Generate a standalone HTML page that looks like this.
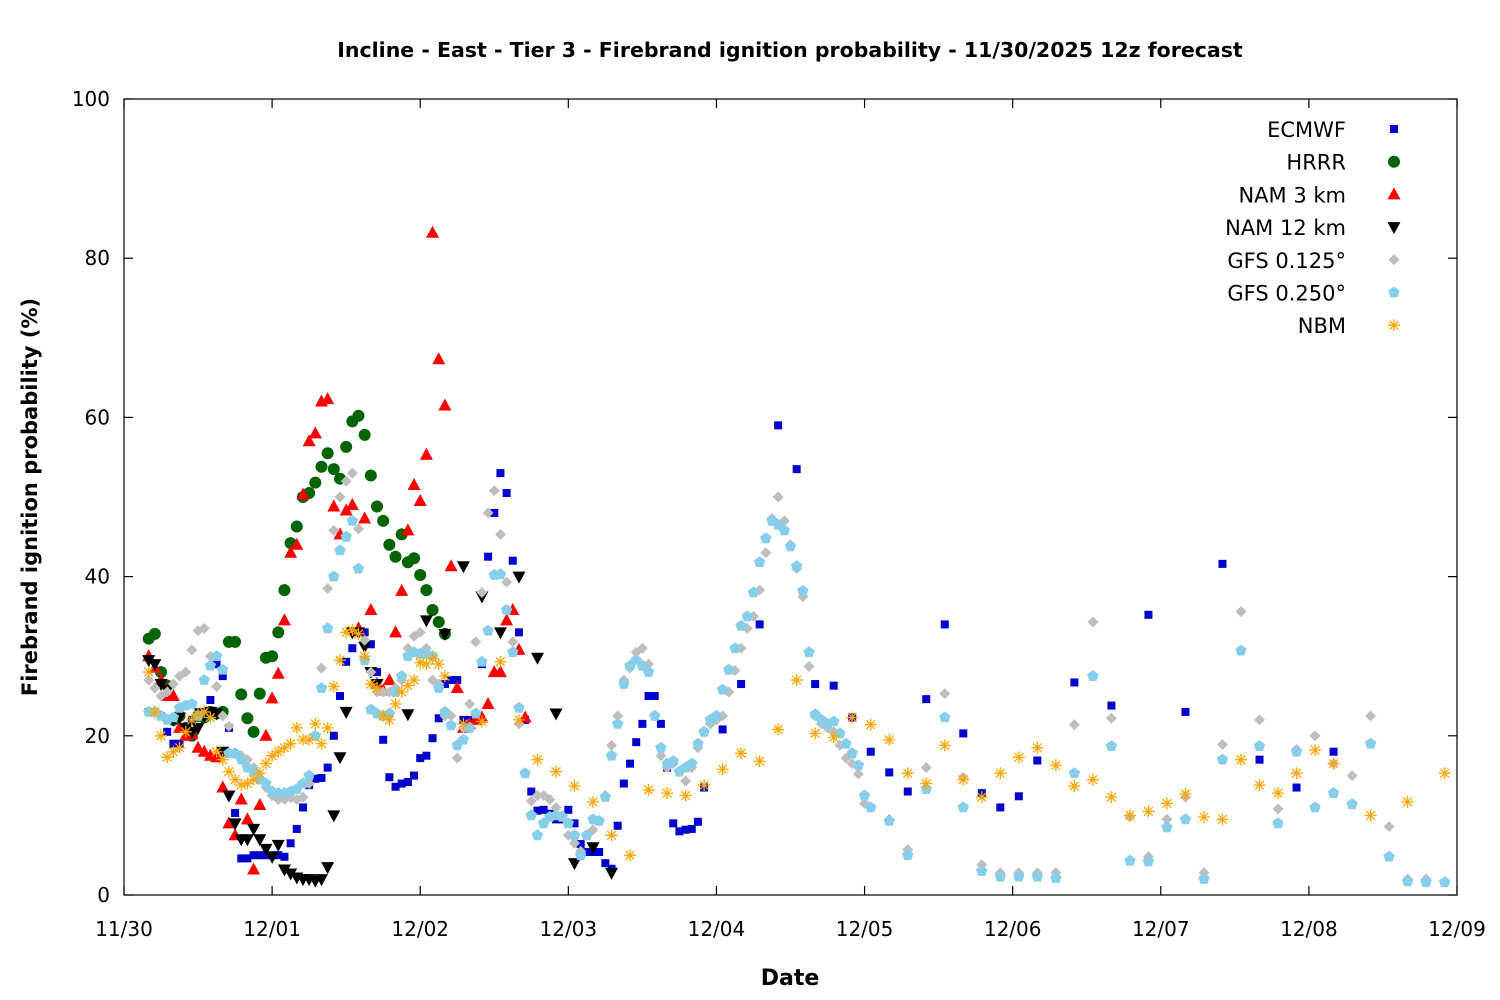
<!DOCTYPE html>
<html><head><meta charset="utf-8"><style>
html,body{margin:0;padding:0;background:#fff;}
svg{display:block;font-family:"DejaVu Sans","Liberation Sans",sans-serif;}
</style></head><body>
<svg id="chart" width="1500" height="1000" viewBox="0 0 1500 1000" xmlns="http://www.w3.org/2000/svg">
<rect x="0" y="0" width="1500" height="1000" fill="#fff"/>
<text x="790" y="57" text-anchor="middle" font-size="20.5" font-weight="bold">Incline - East - Tier 3 - Firebrand ignition probability - 11/30/2025 12z forecast</text>
<text x="790" y="985" text-anchor="middle" font-size="22" font-weight="bold">Date</text>
<text transform="translate(37,497) rotate(-90)" text-anchor="middle" font-size="21" font-weight="bold">Firebrand ignition probability (%)</text>
<g id="axes"></g>
<g id="marks"></g>
<g id="legend"></g>
<rect x="124" y="99" width="1333" height="796" fill="none" stroke="#000" stroke-width="1.2"/>
</svg>
<script>
// ---- data ----
const xTickLabels = ["11/30","12/01","12/02","12/03","12/04","12/05","12/06","12/07","12/08","12/09"];
const yTickValues = [0,20,40,60,80,100];
const seriesNames = ["ECMWF","HRRR","NAM 3 km","NAM 12 km","GFS 0.125°","GFS 0.250°","NBM"];

// hours since 11/30 00
function hrs(a,b,s){const r=[];for(let h=a;h<=b;h+=s)r.push(h);return r;}

const ecmwfHours = hrs(4,94,1).concat(hrs(97,148,3), hrs(154,196,6));
const ecmwfValues = [23,23,22.5,20.5,19,19,21,22,23,23,
24.5,29,27.5,21,10.3,4.6,4.6,5,5,5,
5,5,4.8,6.5,8.3,11,13.8,14.6,14.7,16,
20,25,29.3,31,33,33,31.5,28,19.5,14.8,
13.6,14,14.2,15,17.2,17.5,19.7,22.2,26.5,27,
27,22,22,22,29,42.5,48,53,50.5,42,
33,22,13,10.6,10.7,10.2,9.5,9.5,10.7,9,
6.4,5.4,5.4,5.4,4,3.3,8.7,14,16.5,19.2,
21.5,25,25,21.5,16,9,8,8.2,8.3,9.2,
13.5,
20.8,26.5,34,59,53.5,26.5,26.3,22.3,18,15.4,13,24.6,34,20.3,12.8,11,12.4,16.9,
26.7,23.8,35.2,23,41.6,17,13.5,18];

const hrrrHours = hrs(4,52,1);
const hrrrValues = [32.2,32.8,28,26.3,22,22.5,21,20,22.5,22.3,23,22.8,23,31.8,31.8,25.2,22.2,20.5,25.3,29.8,30,33,38.3,44.2,46.3,50,50.5,51.8,53.8,55.5,53.5,52.3,56.3,59.5,60.2,57.8,52.7,48.8,47,44,42.5,45.3,41.8,42.3,40.2,38.3,35.8,34.3,32.8];

const nam3Hours = hrs(4,65,1);
const nam3Values = [30,28.5,27,25,25,21,20,20.2,18.5,18,17.5,17.3,13.5,9,7.5,12,9.5,3.2,11.3,20,24.7,27.8,34.5,43,44,50.3,57,58,62,62.3,48.8,45.3,48.3,49,33.5,47.3,35.8,26.5,25.7,27,33,38.2,45.8,51.5,49.5,55.3,83.2,67.3,61.5,41.3,26,21,21.5,22,22.3,24,28,28,34.5,35.8,30.8,22.3];

const nam12Hours = hrs(4,41,1).concat(hrs(46,79,3));
const nam12Values = [29.5,29,26.5,25.8,22,22.3,21,20.5,21,22.5,23,22.8,18,12.5,9,7,7,8.3,7,5.8,4.8,6.3,3.2,2.7,2.2,2,2,1.8,2,3.5,10,17.3,23,33,33,31.2,28,26.5,
22.7,34.5,32.8,41.3,37.5,33,40,29.8,22.8,4,6,2.8];

const gfs125Hours = hrs(4,121,1).concat(hrs(124,214,3));
const gfs125Values = [27,26,25,25.5,26.5,27.5,28,30.8,33.2,33.5,
30,26.2,22.5,21.2,17.8,17.5,17,16,14.5,13.5,
12.5,12,12,12.2,12,12.3,14,20,28.5,38.5,
45.8,50,52,53,46,32,28,25.5,25.5,25.5,
26,27,31,32.5,33,31,27,26.5,22.5,22.5,
17.2,21,24,31.8,38,48,50.8,45.3,39.3,31.8,
21.5,15.3,11.8,12.5,12.5,12,11,10,7.5,6.5,
5.5,7.5,8.2,9.3,12.5,18.8,22.5,27,28.5,30.5,
31,29,22.5,17.5,16,16.5,15.5,14.3,16,18.5,
20.5,21.5,22,22.5,25.5,28.2,31,33.5,35,38.3,
43,47.3,50,47,44,41,37.5,28.7,22.5,21.5,
21,20.5,18.8,17.2,16.5,15.2,11.5,11,
9.5,5.7,16,25.3,14.8,3.8,2.8,2.8,2.8,2.8,21.4,34.3,22.2,9.8,4.8,9.5,12.3,2.8,18.9,35.6,22,10.8,18.3,20,16.5,15,22.5,8.6,2,2,1.7];

const gfs250Hours = hrs(4,121,1).concat(hrs(124,214,3));
const gfs250Values = [23,23,22.5,22,22.3,23.5,23.8,24,22.5,27,
28.8,30,28.3,17.8,17.8,17,16,15.5,14.5,14,
13,12.8,12.8,13,13.3,14,15,20,26,33.5,
40,43.3,45,47,41,29.5,23.3,22.8,22.5,22.8,
25.5,27.5,30,30.5,30.3,30.3,30,26,23,21.3,
18.8,19.5,21,22.8,29.3,33.2,40.2,40.3,35.8,30.5,
23.5,15.3,10,7.5,9,9.8,10,9.8,9,7.5,
5,7.5,9.5,9.3,12.3,17.5,21.5,26.5,28.8,29.5,
28.8,28,22.5,18.5,16.5,16.8,15.5,16,16.5,19,
20.5,22,22.5,25.8,28.3,31,33.8,35,38,41.8,
44.8,47,46.5,45.8,43.8,41.3,38.2,30.5,22.7,22,
21.5,21.8,20.3,19,17.8,16.3,12.5,11,
9.3,5,13.3,22.3,11,3,2.3,2.3,2.3,2.1,15.3,27.5,18.7,4.3,4.2,8.5,9.5,2,17,30.7,18.7,9,18,11,12.8,11.4,19,4.8,1.7,1.6,1.6];

const nbmHours = hrs(4,52,1).concat(hrs(55,196,3), hrs(202,214,6));
const nbmValues = [28,23,20,17.3,18,18.5,20.5,22,22.7,23,
22.3,18,17,15.5,14.5,13.8,14,14.5,15.3,16.5,
17.5,18,18.5,19,21,19.5,19.5,21.5,19,21,
26.2,29.5,33,33.3,32.8,30,26.5,26,22.5,22,
24,25.5,26.3,27,29.2,29,29.7,29,27.5,
21.5,21.8,29.3,22,17,15.5,13.7,11.7,7.5,5,13.2,12.8,12.5,13.8,15.8,17.8,16.8,20.8,27,20.3,19.8,22.3,21.4,19.5,15.3,14,18.8,14.5,12.3,15.3,17.3,18.5,16.3,13.7,14.5,12.3,10,10.5,11.5,12.7,9.8,9.5,17,13.8,12.8,15.3,18.2,16.5,
10,11.7,15.3];

// ---- scales ----
const X0=124,X1=1457,Y0=895,Y1=99;
const xScale=h=>X0+(h/216)*(X1-X0);
const yScale=v=>Y0-(v/100)*(Y0-Y1);
const NS="http://www.w3.org/2000/svg";
function mk(tag,attrs,parent){const e=document.createElementNS(NS,tag);for(const k in attrs)e.setAttribute(k,attrs[k]);parent.appendChild(e);return e;}

const axes=document.getElementById('axes');
xTickLabels.forEach((lab,i)=>{
  const x=xScale(i*24);
  const t1=mk('line',{x1:x,y1:Y0,x2:x,y2:Y0-9,stroke:'#000','stroke-width':1.2},axes);
  
  
  const t2=mk('line',{x1:x,y1:Y1,x2:x,y2:Y1+9,stroke:'#000','stroke-width':1.2},axes);
  
  
  const tx=mk('text',{x:x,y:936,'text-anchor':'middle','font-size':20},axes);
  tx.textContent=lab;
  
  
});
yTickValues.forEach(v=>{
  const y=yScale(v);
  const t1=mk('line',{x1:X0,y1:y,x2:X0+9,y2:y,stroke:'#000','stroke-width':1.2},axes);
  
  
  const t2=mk('line',{x1:X1,y1:y,x2:X1-9,y2:y,stroke:'#000','stroke-width':1.2},axes);
  
  
  const tx=mk('text',{x:110,y:y+7,'text-anchor':'end','font-size':20},axes);
  tx.textContent=v;
  
  
});

function marker(kind,x,y,parent){
  let e;
  if(kind==='square') e=mk('rect',{x:x-4,y:y-4,width:8,height:8,fill:'#0000cc'},parent);
  else if(kind==='circle') e=mk('circle',{cx:x,cy:y,r:6,fill:'#006400'},parent);
  else if(kind==='tri') e=mk('polygon',{points:`${x},${y-7} ${x+6.5},${y+5} ${x-6.5},${y+5}`,fill:'#ff0000'},parent);
  else if(kind==='itri') e=mk('polygon',{points:`${x},${y+7} ${x+6.5},${y-5} ${x-6.5},${y-5}`,fill:'#000'},parent);
  else if(kind==='diamond') e=mk('polygon',{points:`${x},${y-5.5} ${x+5.5},${y} ${x},${y+5.5} ${x-5.5},${y}`,fill:'#bebebe'},parent);
  else if(kind==='pent'){let p=[];for(let k=0;k<5;k++){const a=-Math.PI/2+k*2*Math.PI/5;p.push((x+6*Math.cos(a)).toFixed(1)+','+(y+6*Math.sin(a)).toFixed(1));}e=mk('polygon',{points:p.join(' '),fill:'#87ceeb'},parent);}
  else {e=mk('path',{d:`M${x-6},${y}H${x+6}M${x},${y-6}V${y+6}M${x-4.3},${y-4.3}L${x+4.3},${y+4.3}M${x-4.3},${y+4.3}L${x+4.3},${y-4.3}`,stroke:'#ffa500','stroke-width':1.3,fill:'none'},parent);}
  return e;
}

const series=[
  {hours:ecmwfHours,vals:ecmwfValues,kind:'square',name:'ecmwf'},
  {hours:hrrrHours,vals:hrrrValues,kind:'circle',name:'hrrr'},
  {hours:nam3Hours,vals:nam3Values,kind:'tri',name:'nam-3km'},
  {hours:nam12Hours,vals:nam12Values,kind:'itri',name:'nam-12km'},
  {hours:gfs125Hours,vals:gfs125Values,kind:'diamond',name:'gfs-0125'},
  {hours:gfs250Hours,vals:gfs250Values,kind:'pent',name:'gfs-0250'},
  {hours:nbmHours,vals:nbmValues,kind:'star',name:'nbm'}
];
const marks=document.getElementById('marks');
series.forEach(s=>{
  const g=mk('g',{},marks);
  
  
  const n=Math.min(s.hours.length,s.vals.length);
  for(let i=0;i<n;i++){
    const m=marker(s.kind,xScale(s.hours[i]),yScale(s.vals[i]),g);
    
    
  }
});

const legend=document.getElementById('legend');
series.forEach((s,i)=>{
  const y=129+i*32.7;
  const g=mk('g',{},legend);
  
  
  const t=mk('text',{x:1346,y:y+8,'text-anchor':'end','font-size':21},g);
  t.textContent=seriesNames[i];
  const m=marker(s.kind,1394,y,g);
  
  
});
</script>
</body></html>
